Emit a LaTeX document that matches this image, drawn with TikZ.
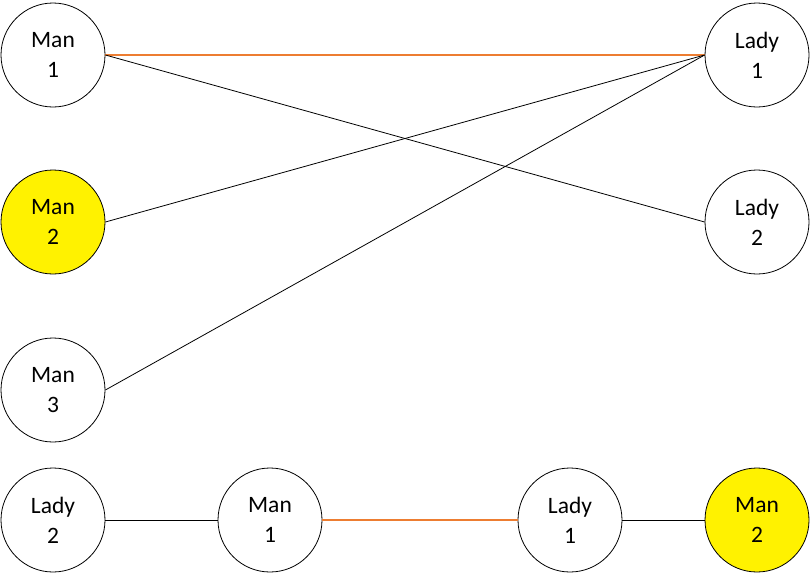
\documentclass[tikz,border=0pt]{standalone}
\usepackage{fontspec}
\setmainfont{Carlito}
\definecolor{offorange}{RGB}{237,125,49}
\begin{document}
\begin{tikzpicture}[x=1pt,y=-1pt,
  person/.style={circle,draw=black,line width=0.8pt,minimum size=104pt,inner sep=0pt,align=center,font=\fontsize{23.5}{30}\selectfont},
  chosen/.style={person,fill=yellow},
  link/.style={draw=black,line width=0.8pt},
  matched/.style={draw=offorange,line width=1.6pt}]
\path[use as bounding box,fill=white] (0,0) rectangle (810,576);
\node[person] (m1) at (53,55) {Man\\1};
\node[chosen] (m2) at (53,222) {Man\\2};
\node[person] (m3) at (53,390) {Man\\3};
\node[person] (l1) at (757,55) {Lady\\1};
\node[person] (l2) at (757,222) {Lady\\2};
\draw[matched] (m1.east) -- (l1.west);
\draw[link] (m1.east) -- (l2.west);
\draw[link] (m2.east) -- (l1.west);
\draw[link] (m3.east) -- (l1.west);
\node[person] (bl2) at (53,520) {Lady\\2};
\node[person] (bm1) at (270,520) {Man\\1};
\node[person] (bl1) at (570,520) {Lady\\1};
\node[chosen] (bm2) at (757,520) {Man\\2};
\draw[link] (bl2) -- (bm1);
\draw[matched] (bm1) -- (bl1);
\draw[link] (bl1) -- (bm2);
\end{tikzpicture}
\end{document}
